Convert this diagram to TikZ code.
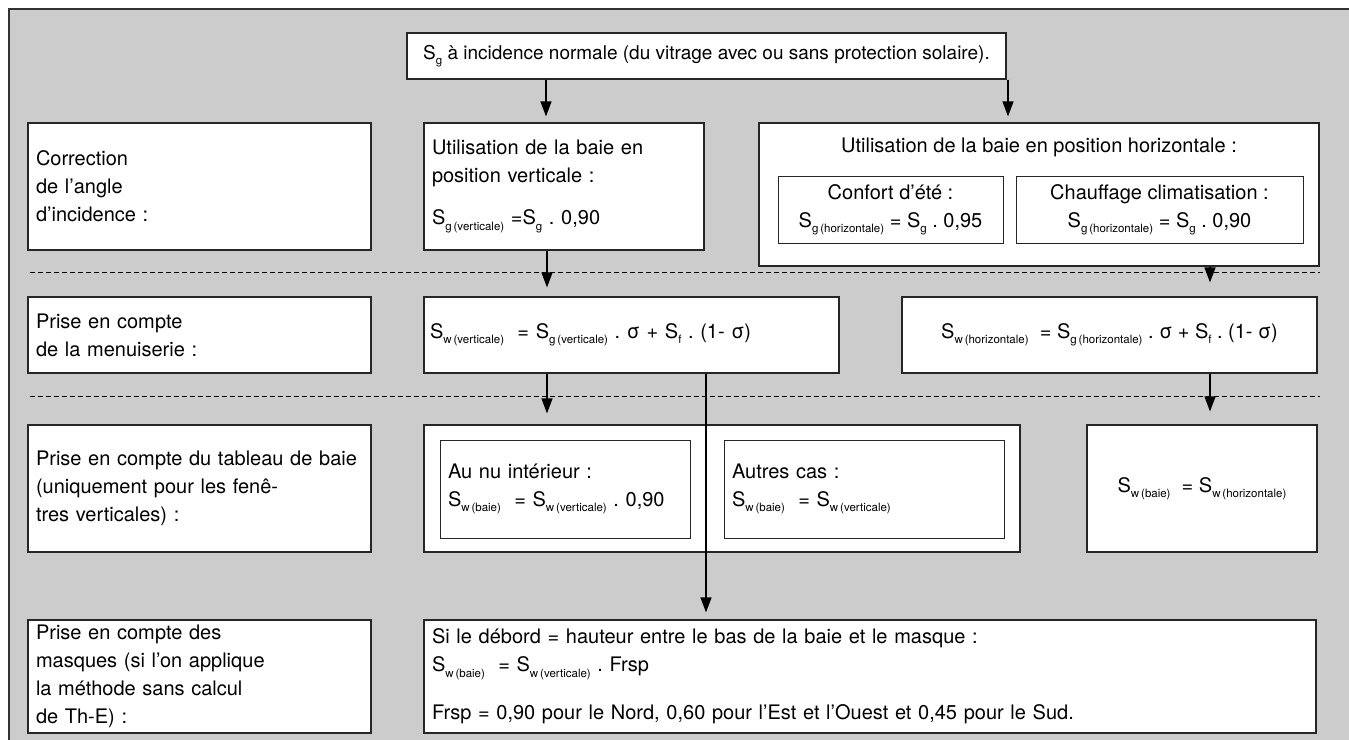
\documentclass[tikz,border=0pt]{standalone}
\usepackage{fontspec}
\setmainfont{TeX Gyre Heros}
\usetikzlibrary{arrows.meta}
\frenchspacing
\definecolor{fond}{HTML}{CCCCCC}
\newcommand{\idx}[1]{\raisebox{-0.5ex}{\fontsize{11.5}{11.5}\selectfont #1}}
\tikzset{
  boite/.style={draw=black!85, fill=white, line width=1.2pt, rectangle, inner xsep=8pt, inner ysep=0pt, font=\fontsize{20}{28}\selectfont},
  fleche/.style={line width=1.2pt, -{Triangle[length=15pt,width=11pt]}},
  pointille/.style={line width=0.9pt, dash pattern=on 5pt off 3pt}
}

\begin{document}
\begin{tikzpicture}[x=1pt, y=-1pt]
			%%%%% FOND %%%%%
			\useasboundingbox (0,0) rectangle (1349,739);
			\fill[white] (0,0) rectangle (1349,739);
			\clip (0,0) rectangle (1349,739);
			\draw[fill=fond, line width=2pt, draw=black!80] (9,9) rectangle (1365,750);
			
			\draw[pointille] (30,272) -- (1320,272);
			\draw[pointille] (30,396) -- (1320,396);
			
			%%%%% COLONNE GAUCHE %%%%%
			\node[boite, minimum width=343pt, minimum height=127pt, text width=327pt, align=left] (lblA) at (199.5,186.5) {Correction\\de l’angle\\d’incidence :};
			\node[boite, minimum width=343pt, minimum height=76pt, text width=327pt, align=left] (lblB) at (199.5,335) {Prise en compte\\de la menuiserie :};
			\node[boite, minimum width=343pt, minimum height=127pt, text width=327pt, align=left] (lblC) at (199.5,488.5) {\mbox{Prise en compte du tableau de baie}\\(uniquement pour les fenê-\\tres verticales) :};
			\node[boite, minimum width=343pt, minimum height=113pt, text width=327pt, align=left] (lblD) at (199.5,676.5) {Prise en compte des\\masques (si l’on applique\\la méthode sans calcul\\de Th-E) :};
			
			%%%%% HAUT %%%%%
			\node[boite, minimum width=599pt, minimum height=46pt, font=\fontsize{19}{28}\selectfont] (sg) at (706.5,56) {S\idx{g} à incidence normale (du vitrage avec ou sans protection solaire).};
			
			%%%%% ANGLE %%%%%
			\node[boite, minimum width=280pt, minimum height=127pt, text width=264pt, align=left] (vert) at (564,186.5) {Utilisation de la baie en\\position verticale :\\[14pt]S\idx{g\,(verticale)} =S\idx{g} . 0,90};
			
			\node[boite, minimum width=560pt, minimum height=143pt] (horiz) at (1039,194.5) {};
			\node[font=\fontsize{20}{28}\selectfont] (htitre) at (1039,147) {Utilisation de la baie en position horizontale :};
			\node[boite, line width=1pt, minimum width=225pt, minimum height=67pt, align=center] (confort) at (890.5,209.5) {Confort d’été :\\S\idx{g\,(horizontale)} = S\idx{g} . 0,95};
			\node[boite, line width=1pt, minimum width=287pt, minimum height=67pt, align=center] (chauff) at (1159.5,209.5) {Chauffage climatisation :\\S\idx{g\,(horizontale)} = S\idx{g} . 0,90};
			
			%%%%% MENUISERIE %%%%%
			\node[boite, minimum width=415pt, minimum height=76pt, text width=403pt, inner xsep=6pt, align=left] (menvert) at (631.5,335) {S\idx{w\,(verticale)}\ \ = S\idx{g\,(verticale)} . σ + S\idx{f} . (1- σ)};
			\node[boite, minimum width=415pt, minimum height=76pt] (menhoriz) at (1109.5,335) {S\idx{w\,(horizontale)}\ \ = S\idx{g\,(horizontale)} . σ + S\idx{f} . (1- σ)};
			
			%%%%% TABLEAU %%%%%
			\node[boite, minimum width=596pt, minimum height=127pt] (tabl) at (722,488.5) {};
			\node[boite, line width=1pt, minimum width=250pt, minimum height=98pt, text width=234pt, align=left] (nuint) at (565,489) {Au nu intérieur :\\S\idx{w\,(baie)}\ \ = S\idx{w\,(verticale)} . 0,90};
			\node[boite, line width=1pt, minimum width=280pt, minimum height=98pt, text width=264pt, align=left] (autres) at (864,489) {Autres cas :\\S\idx{w\,(baie)}\ \ = S\idx{w\,(verticale)}};
			\node[boite, minimum width=230pt, minimum height=127pt] (tabh) at (1202,488.5) {S\idx{w\,(baie)}\ \ = S\idx{w\,(horizontale)}};
			
			%%%%% MASQUES %%%%%
			\node[boite, minimum width=892pt, minimum height=113pt, text width=876pt, align=left] (masq) at (870,676.5) {Si le débord = hauteur entre le bas de la baie et le masque :\\S\idx{w\,(baie)}\ \ = S\idx{w\,(verticale)} . Frsp\\[20pt]Frsp = 0,90 pour le Nord, 0,60 pour l’Est et l’Ouest et 0,45 pour le Sud.};
			
			%%%%% FLECHES %%%%%
			\coordinate (xa) at (546,0);
			\coordinate (xb) at (1008,0);
			\coordinate (xc) at (547,0);
			\coordinate (xd) at (1210,0);
			\coordinate (xe) at (706,0);
			\draw[fleche, shorten >=6pt] (sg.south -| xa) -- (vert.north -| xa);
			\draw[fleche, shorten >=6pt] (sg.south -| xb) -- (horiz.north -| xb);
			\draw[fleche, shorten >=9pt] (vert.south -| xc) -- (menvert.north -| xc);
			\draw[fleche, shorten >=14pt] (horiz.south -| xd) -- (menhoriz.north -| xd);
			\draw[fleche, shorten >=11pt] (menvert.south -| xc) -- (tabl.north -| xc);
			\draw[fleche, shorten >=13pt] (menhoriz.south -| xd) -- (tabh.north -| xd);
			\draw[fleche, shorten >=7pt] (menvert.south -| xe) -- (masq.north -| xe);
			
		\end{tikzpicture}
\end{document}
